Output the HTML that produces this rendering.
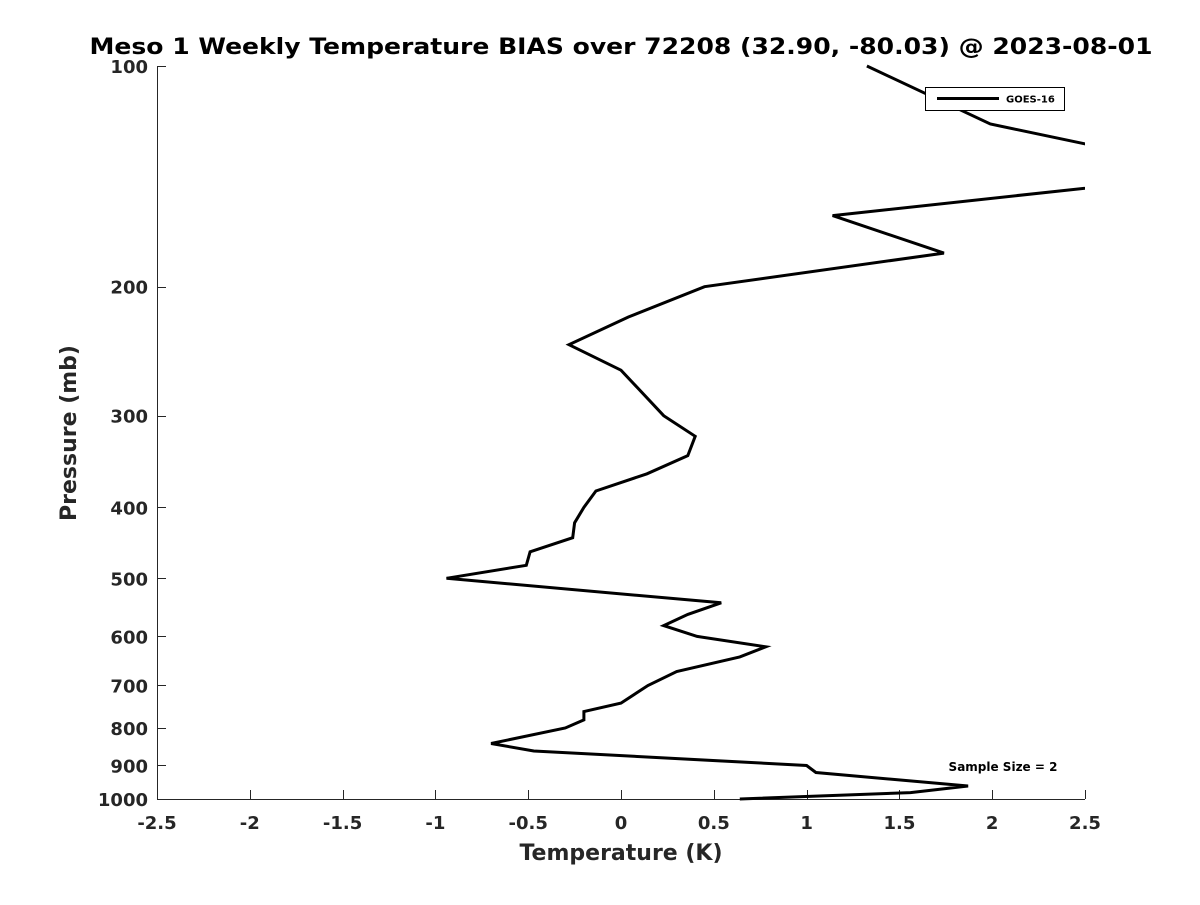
<!DOCTYPE html>
<html><head><meta charset="utf-8"><style>
body{margin:0;background:#fff;}
svg text{font-family:"DejaVu Sans","Liberation Sans",sans-serif;font-weight:bold;}
</style></head><body>
<svg id="chart" width="1200" height="900" xmlns="http://www.w3.org/2000/svg">
<rect width="1200" height="900" fill="#fff"/>
<defs><clipPath id="plotclip"><rect x="157" y="40" width="928" height="780"/></clipPath></defs>
<text x="621" y="54" text-anchor="middle" font-size="22" fill="#000" textLength="1063" lengthAdjust="spacingAndGlyphs">Meso 1 Weekly Temperature BIAS over 72208 (32.90, -80.03) @ 2023-08-01</text>
<g id="axes"></g>
<path id="series" fill="none" stroke="#000" stroke-width="3" stroke-linejoin="miter" clip-path="url(#plotclip)"/>
<g>
<rect x="925.5" y="87.5" width="139" height="23" fill="#fff" stroke="#000" stroke-width="1"/>
<line x1="937" y1="98.5" x2="999" y2="98.5" stroke="#000" stroke-width="3"/>
<text x="1006" y="102.5" font-size="10" fill="#000">GOES-16</text>
</g>
<text x="1003" y="771" text-anchor="middle" font-size="12" fill="#000">Sample Size = 2</text>
<text x="621" y="860" text-anchor="middle" font-size="22" fill="#262626">Temperature (K)</text>
<text transform="translate(76,433) rotate(-90)" text-anchor="middle" font-size="22" fill="#262626">Pressure (mb)</text>
</svg>
<script>
const xTicks=[-2.5,-2,-1.5,-1,-0.5,0,0.5,1,1.5,2,2.5];
const xTickLabels=["-2.5","-2","-1.5","-1","-0.5","0","0.5","1","1.5","2","2.5"];
const yTicks=[100,200,300,400,500,600,700,800,900,1000];
const pressure=[100,120,140,160,180,200,220,240,260,300,320,340,360,380,400,420,440,460,480,500,540,560,580,600,620,640,670,700,740,760,780,800,840,860,900,920,960,980,1000];
const bias=[1.325,1.99,3.25,1.14,1.74,0.45,0.04,-0.28,0.0,0.23,0.40,0.36,0.14,-0.135,-0.2,-0.25,-0.26,-0.49,-0.51,-0.94,0.54,0.36,0.23,0.41,0.78,0.64,0.30,0.145,0.0,-0.2,-0.2,-0.3,-0.7,-0.47,1.0,1.05,1.87,1.56,0.64];
const X0=157,X1=1085,Y0=66,Y1=799;
function xs(v){return X0+(v-(-2.5))/5*(X1-X0);}
function ys(p){return Y0+Math.log10(p/100)*(Y1-Y0);}
const NS="http://www.w3.org/2000/svg";
const ax=document.getElementById('axes');
function mk(t,a){const e=document.createElementNS(NS,t);for(const k in a)e.setAttribute(k,a[k]);return e;}
const xl=mk('line',{x1:X0,y1:Y1+0.5,x2:X1,y2:Y1+0.5,stroke:'#262626','stroke-width':1});


ax.appendChild(xl);
const yl=mk('line',{x1:X0+0.5,y1:Y0,x2:X0+0.5,y2:Y1,stroke:'#262626','stroke-width':1});


ax.appendChild(yl);
xTicks.forEach((v,i)=>{
 const x=Math.round(xs(v))+0.5;
 const t=mk('line',{x1:x,y1:Y1,x2:x,y2:Y1-9,stroke:'#262626','stroke-width':1});
 
 
 ax.appendChild(t);
 const l=mk('text',{x:xs(v),y:829,'text-anchor':'middle','font-size':18,fill:'#262626'});
 
 
 l.textContent=xTickLabels[i];ax.appendChild(l);
});
yTicks.forEach(p=>{
 const y=Math.round(ys(p))+0.5;
 const t=mk('line',{x1:X0,y1:y,x2:X0+9,y2:y,stroke:'#262626','stroke-width':1});
 
 
 ax.appendChild(t);
 const l=mk('text',{x:148,y:ys(p)+7,'text-anchor':'end','font-size':18,fill:'#262626'});
 
 
 l.textContent=String(p);ax.appendChild(l);
});
document.getElementById('series').setAttribute('d',pressure.map((p,i)=>(i?'L':'M')+xs(bias[i]).toFixed(1)+','+ys(p).toFixed(1)).join(' '));
</script>
</body></html>
